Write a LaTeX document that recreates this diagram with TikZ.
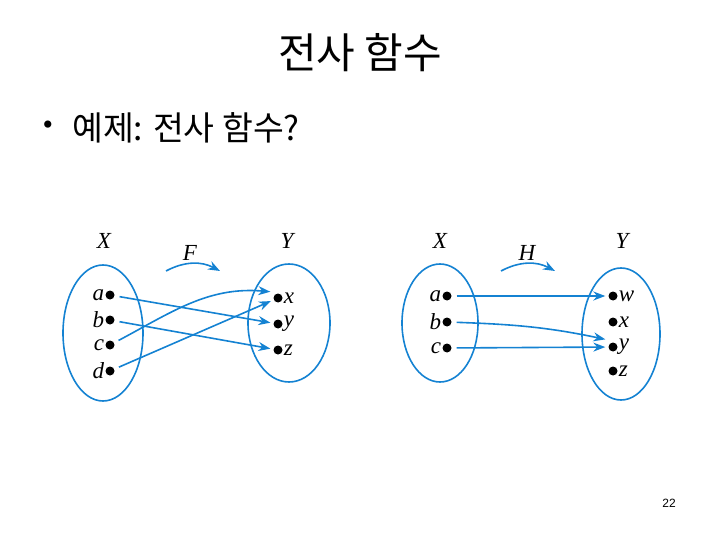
\documentclass[tikz,border=0pt]{standalone}
\usepackage{fontspec}
\setmainfont{Liberation Serif}
\newfontfamily\kofont{Noto Sans CJK KR}
\newfontfamily\pagefont{Liberation Sans}
\usetikzlibrary{arrows.meta,positioning,shapes.geometric}
\definecolor{mapblue}{RGB}{20,130,210}
\tikzset{
  setoval/.style={draw=mapblue,line width=1.6pt,ellipse,inner sep=0pt},
  elem/.style={circle,fill=black,inner sep=0pt,minimum size=9pt,
    label distance=5pt},
  setname/.style={font=\fontsize{23}{23}\selectfont\itshape},
  elemname/.style={rectangle,minimum size=0pt,inner sep=1pt,
    font=\fontsize{23}{23}\selectfont\itshape},
  maparrow/.style={draw=mapblue,line width=1.6pt,
    -{Stealth[length=12pt,width=9pt]},shorten <=5pt,shorten >=3pt}
}
\begin{document}
\begin{tikzpicture}[x=1pt,y=1pt]
\useasboundingbox (0,0) rectangle (720,-540);
% title and bullet line
\node (title) at (360,-53) {\kofont\fontsize{42}{42}\selectfont 전사 함수};
\node (bullet) at (48,-128) {\fontsize{30}{30}\selectfont\textbullet};
\node[anchor=west,inner sep=0pt] (task) at (72,-128)
  {\kofont\fontsize{33.5}{33.5}\selectfont 예제: 전사 함수?};
% left mapping F
\node[setoval,minimum width=80pt,minimum height=136pt] (setX) at (103,-333) {};
\node[setoval,minimum width=82pt,minimum height=118pt] (setY) at (289,-323) {};
\node[setname] (nameX) at (104,-241) {X};
\node[setname] (nameY) at (287,-241) {Y};
\node[setname] (nameF) at (190,-253) {F};
\coordinate (fs) at (166,-271);
\coordinate [right=54pt of fs] (fe);
\node[elem,label={[elemname]left:a}] (xa) at (110,-295) {};
\node[elem,label={[elemname]left:b}] (xb) at (110,-320) {};
\node[elem,label={[elemname]left:c}] (xc) at (110,-345) {};
\node[elem,label={[elemname]left:d}] (xd) at (110,-371) {};
\node[elem,label={[elemname]right:x}] (yx) at (278,-298) {};
\node[elem,label={[elemname]right:y}] (yy) at (278,-324) {};
\node[elem,label={[elemname]right:z}] (yz) at (278,-350) {};
\draw[maparrow,shorten <=0pt,shorten >=0pt] (fs) to[bend left=28] (fe);
\draw[maparrow] (xa) -- (yy);
\draw[maparrow] (xb) -- (yz);
\draw[maparrow] (xc) to[out=28,in=175] ([yshift=6pt]yx.west);
\draw[maparrow] (xd) -- (yx);
% right mapping H
\node[setoval,minimum width=76pt,minimum height=118pt] (setX2) at (440,-323) {};
\node[setoval,minimum width=78pt,minimum height=132pt] (setY2) at (621,-334) {};
\node[setname] (nameX2) at (440,-241) {X};
\node[setname] (nameY2) at (622,-241) {Y};
\node[setname] (nameH) at (527,-253) {H};
\coordinate (hs) at (501,-271);
\coordinate [right=54pt of hs] (he);
\node[elem,label={[elemname]left:a}] (xa2) at (447,-296) {};
\node[elem,label={[elemname]left:b}] (xb2) at (447,-322) {};
\node[elem,label={[elemname]left:c}] (xc2) at (447,-348) {};
\node[elem,label={[elemname]right:w}] (yw2) at (613,-296) {};
\node[elem,label={[elemname]right:x}] (yx2) at (613,-322) {};
\node[elem,label={[elemname]right:y}] (yy2) at (613,-347) {};
\node[elem,label={[elemname]right:z}] (yz2) at (613,-371) {};
\draw[maparrow,shorten <=0pt,shorten >=0pt] (hs) to[bend left=28] (he);
\draw[maparrow] (xa2) -- (yw2);
\draw[maparrow] (xb2) to[out=-2,in=168] ([yshift=7pt]yy2.west);
\draw[maparrow] (xc2) -- (yy2);
% page number
\node (pagenum) at (669,-503) {\pagefont\fontsize{12}{12}\selectfont 22};
\end{tikzpicture}
\end{document}
